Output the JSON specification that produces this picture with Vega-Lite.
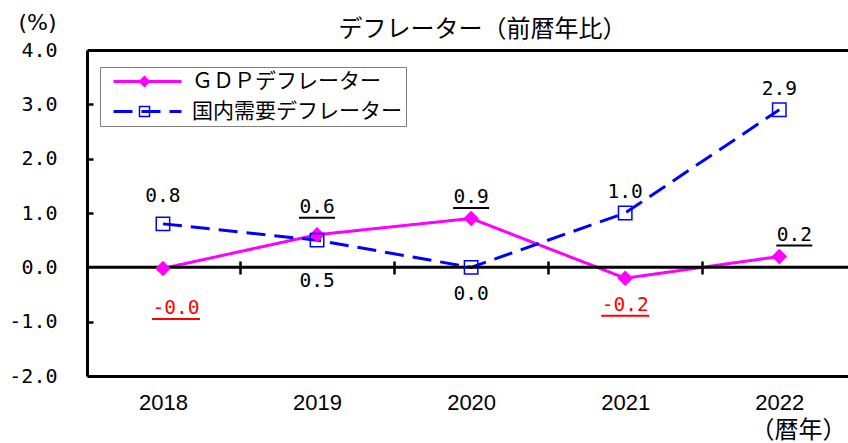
{
  "$schema": "https://vega.github.io/schema/vega-lite/v6.json",
  "width": 761,
  "height": 326,
  "autosize": "none",
  "padding": {"left": 87, "top": 50, "right": 0, "bottom": 67},
  "background": "white",
  "config": {"view": {"stroke": null}, "axis": {"grid": false}},
  "datasets": {
    "d": [
      {"year": 2018, "series": "ＧＤＰデフレーター", "value": -0.02, "label": "-0.0"},
      {"year": 2019, "series": "ＧＤＰデフレーター", "value": 0.6, "label": "0.6"},
      {"year": 2020, "series": "ＧＤＰデフレーター", "value": 0.9, "label": "0.9"},
      {"year": 2021, "series": "ＧＤＰデフレーター", "value": -0.2, "label": "-0.2"},
      {"year": 2022, "series": "ＧＤＰデフレーター", "value": 0.2, "label": "0.2"},
      {"year": 2018, "series": "国内需要デフレーター", "value": 0.8, "label": "0.8"},
      {"year": 2019, "series": "国内需要デフレーター", "value": 0.5, "label": "0.5"},
      {"year": 2020, "series": "国内需要デフレーター", "value": 0.0, "label": "0.0"},
      {"year": 2021, "series": "国内需要デフレーター", "value": 1.0, "label": "1.0"},
      {"year": 2022, "series": "国内需要デフレーター", "value": 2.9, "label": "2.9"}
    ]
  },
  "data": {"name": "d"},
  "resolve": {"axis": {"x": "independent", "y": "independent"}},
  "layer": [
    {
      "mark": {"type": "line", "strokeWidth": 3},
      "encoding": {
        "x": {"field": "year", "type": "quantitative", "scale": {"domain": [2017.507, 2022.446], "nice": false, "zero": false},
          "axis": {"orient": "bottom", "values": [2018, 2019, 2020, 2021, 2022], "format": "d", "labelFont": "Liberation Sans", "labelFontSize": 22, "labelColor": "black", "labelPadding": 16, "ticks": false, "domain": true, "domainColor": "black", "domainWidth": 3, "grid": false, "labelFlush": false, "labelOverlap": false,
            "title": "（暦年）", "titleFont": "Noto Sans CJK JP", "titleFontSize": 24, "titleFontWeight": "normal", "titleColor": "black", "titleX": 711, "titleY": 54, "titleAlign": "center", "titleBaseline": "middle"}},
        "y": {"field": "value", "type": "quantitative", "scale": {"domain": [-2, 4], "nice": false, "zero": false},
          "axis": {"orient": "left", "values": [-2, -1, 0, 1, 2, 3, 4], "labelExpr": "datum.value < 0 ? '-' + format(-datum.value, '.1f') : format(datum.value, '.1f')", "labelFont": "DejaVu Sans Mono", "labelFontSize": 20, "labelColor": "black", "ticks": false, "labelPadding": 30, "domain": true, "domainColor": "black", "domainWidth": 3, "grid": false, "labelFlush": false, "labelOverlap": false,
            "title": "(%)", "titleAngle": 0, "titleX": -50, "titleY": -28, "titleAlign": "center", "titleBaseline": "middle", "titleFont": "DejaVu Sans", "titleFontSize": 22, "titleFontWeight": "normal", "titleColor": "black"}},
        "color": {"field": "series", "type": "nominal", "scale": {"domain": ["ＧＤＰデフレーター", "国内需要デフレーター"], "range": ["#FF00FF", "#0000FF"]},
          "legend": {"orient": "none", "legendX": 13, "legendY": 17, "title": null, "symbolType": "M-5,0H5", "symbolSize": 185, "symbolStrokeWidth": 3, "labelFont": "Noto Sans CJK JP", "labelFontSize": 21, "labelColor": "black", "padding": 4, "symbolOffset": 33, "labelOffset": 34, "rowPadding": 8, "strokeColor": "#808080", "labelLimit": 400}},
        "strokeDash": {"field": "series", "type": "nominal", "scale": {"domain": ["ＧＤＰデフレーター", "国内需要デフレーター"], "range": [[1, 0], [19, 9]]},
          "legend": {"orient": "none", "legendX": 13, "legendY": 17, "title": null, "symbolType": "M-5,0H5", "symbolSize": 185, "symbolStrokeWidth": 3, "labelFont": "Noto Sans CJK JP", "labelFontSize": 21, "labelColor": "black", "padding": 4, "symbolOffset": 33, "labelOffset": 34, "rowPadding": 8, "strokeColor": "#808080", "labelLimit": 400}}
      }
    },
    {
      "data": {"values": [{}]},
      "mark": {"type": "rule", "strokeWidth": 3, "color": "black"},
      "encoding": {
        "y": {"datum": 0, "type": "quantitative", "scale": {"domain": [-2, 4], "nice": false, "zero": false}, "axis": null}
      }
    },
    {
      "mark": {"type": "point", "filled": true, "size": 180, "strokeWidth": 1.5, "opacity": 1},
      "encoding": {
        "x": {"field": "year", "type": "quantitative", "scale": {"domain": [2017.507, 2022.446], "nice": false, "zero": false},
          "axis": {"orient": "top", "domain": true, "domainColor": "black", "domainWidth": 3, "ticks": false, "labels": false, "grid": false,
            "title": "デフレーター（前暦年比）", "titleFont": "Noto Sans CJK JP", "titleFontSize": 24, "titleFontWeight": "normal", "titleColor": "black", "titleX": 395, "titleY": -21, "titleAlign": "center", "titleBaseline": "middle"}},
        "y": {"field": "value", "type": "quantitative", "scale": {"domain": [-2, 4], "nice": false, "zero": false},
          "axis": {"orient": "right", "offset": -761, "values": [-1, 1, 2, 3], "ticks": true, "tickSize": 6, "tickWidth": 2.5, "tickColor": "black", "labels": false, "domain": false, "title": null, "grid": false}},
        "shape": {"field": "series", "type": "nominal", "scale": {"domain": ["国内需要デフレーター", "ＧＤＰデフレーター"], "range": ["square", "diamond"]},
          "legend": {"orient": "none", "legendX": 13, "legendY": 17, "values": ["ＧＤＰデフレーター", "国内需要デフレーター"], "title": null, "labelFont": "Noto Sans CJK JP", "labelFontSize": 21, "labelColor": "transparent", "padding": 4, "symbolOffset": 30, "rowPadding": 8, "symbolStrokeWidth": 1.5, "labelLimit": 400}},
        "fill": {"field": "series", "type": "nominal", "scale": {"domain": ["国内需要デフレーター", "ＧＤＰデフレーター"], "range": ["transparent", "#FF00FF"]},
          "legend": {"orient": "none", "legendX": 13, "legendY": 17, "values": ["ＧＤＰデフレーター", "国内需要デフレーター"], "title": null, "labelFont": "Noto Sans CJK JP", "labelFontSize": 21, "labelColor": "transparent", "padding": 4, "symbolOffset": 30, "rowPadding": 8, "symbolStrokeWidth": 1.5, "labelLimit": 400}},
        "stroke": {"field": "series", "type": "nominal", "scale": {"domain": ["国内需要デフレーター", "ＧＤＰデフレーター"], "range": ["#0000FF", "#FF00FF"]},
          "legend": {"orient": "none", "legendX": 13, "legendY": 17, "values": ["ＧＤＰデフレーター", "国内需要デフレーター"], "title": null, "labelFont": "Noto Sans CJK JP", "labelFontSize": 21, "labelColor": "transparent", "padding": 4, "symbolOffset": 30, "rowPadding": 8, "symbolStrokeWidth": 1.5, "labelLimit": 400}}
      }
    },
    {
      "transform": [{"filter": "(datum.series == 'ＧＤＰデフレーター' && datum.year == 2020) || (datum.series == '国内需要デフレーター' && (datum.year == 2021 || datum.year == 2022))"}],
      "mark": {"type": "text", "font": "DejaVu Sans Mono", "fontSize": 19.5, "baseline": "middle", "align": "center", "dy": -21},
      "encoding": {
        "x": {"field": "year", "type": "quantitative", "scale": {"domain": [2017.507, 2022.446], "nice": false, "zero": false},
          "axis": {"orient": "bottom", "offset": -109, "values": [2018.5, 2019.5, 2020.5, 2021.5], "labels": false, "domain": false, "ticks": true, "tickSize": 7, "tickWidth": 2.5, "tickColor": "black", "title": null, "grid": false}},
        "y": {"field": "value", "type": "quantitative", "scale": {"domain": [-2, 4], "nice": false, "zero": false}, "axis": null},
        "text": {"field": "label"},
        "color": {"condition": {"test": "datum.value < 0", "value": "#FF0000"}, "value": "black"}
      }
    },
    {
      "transform": [{"filter": "datum.series == 'ＧＤＰデフレーター' && datum.year == 2022"}],
      "mark": {"type": "text", "font": "DejaVu Sans Mono", "fontSize": 19.5, "baseline": "middle", "align": "center", "dy": -21.5, "dx": 15},
      "encoding": {
        "x": {"field": "year", "type": "quantitative", "scale": {"domain": [2017.507, 2022.446], "nice": false, "zero": false},
          "axis": {"orient": "top", "offset": -217, "values": [2018.5, 2019.5, 2020.5, 2021.5], "labels": false, "domain": false, "ticks": true, "tickSize": 6, "tickWidth": 2.5, "tickColor": "black", "title": null, "grid": false}},
        "y": {"field": "value", "type": "quantitative", "scale": {"domain": [-2, 4], "nice": false, "zero": false}, "axis": null},
        "text": {"field": "label"},
        "color": {"condition": {"test": "datum.value < 0", "value": "#FF0000"}, "value": "black"}
      }
    },
    {
      "transform": [{"filter": "(datum.series == 'ＧＤＰデフレーター' && datum.year == 2019) || (datum.series == '国内需要デフレーター' && datum.year == 2018)"}],
      "mark": {"type": "text", "font": "DejaVu Sans Mono", "fontSize": 19.5, "baseline": "middle", "align": "center", "dy": -27.5},
      "encoding": {
        "x": {"field": "year", "type": "quantitative", "scale": {"domain": [2017.507, 2022.446], "nice": false, "zero": false}, "axis": null},
        "y": {"field": "value", "type": "quantitative", "scale": {"domain": [-2, 4], "nice": false, "zero": false}, "axis": null},
        "text": {"field": "label"},
        "color": {"condition": {"test": "datum.value < 0", "value": "#FF0000"}, "value": "black"}
      }
    },
    {
      "transform": [{"filter": "(datum.series == '国内需要デフレーター' && datum.year == 2020) || (datum.series == 'ＧＤＰデフレーター' && datum.year == 2021)"}],
      "mark": {"type": "text", "font": "DejaVu Sans Mono", "fontSize": 19.5, "baseline": "middle", "align": "center", "dy": 27},
      "encoding": {
        "x": {"field": "year", "type": "quantitative", "scale": {"domain": [2017.507, 2022.446], "nice": false, "zero": false}, "axis": null},
        "y": {"field": "value", "type": "quantitative", "scale": {"domain": [-2, 4], "nice": false, "zero": false}, "axis": null},
        "text": {"field": "label"},
        "color": {"condition": {"test": "datum.value < 0", "value": "#FF0000"}, "value": "black"}
      }
    },
    {
      "transform": [{"filter": "datum.series == '国内需要デフレーター' && datum.year == 2019"}],
      "mark": {"type": "text", "font": "DejaVu Sans Mono", "fontSize": 19.5, "baseline": "middle", "align": "center", "dy": 41},
      "encoding": {
        "x": {"field": "year", "type": "quantitative", "scale": {"domain": [2017.507, 2022.446], "nice": false, "zero": false}, "axis": null},
        "y": {"field": "value", "type": "quantitative", "scale": {"domain": [-2, 4], "nice": false, "zero": false}, "axis": null},
        "text": {"field": "label"},
        "color": {"condition": {"test": "datum.value < 0", "value": "#FF0000"}, "value": "black"}
      }
    },
    {
      "transform": [{"filter": "datum.series == 'ＧＤＰデフレーター' && datum.year == 2018"}],
      "mark": {"type": "text", "font": "DejaVu Sans Mono", "fontSize": 19.5, "baseline": "middle", "align": "center", "dy": 40, "dx": 13},
      "encoding": {
        "x": {"field": "year", "type": "quantitative", "scale": {"domain": [2017.507, 2022.446], "nice": false, "zero": false}, "axis": null},
        "y": {"field": "value", "type": "quantitative", "scale": {"domain": [-2, 4], "nice": false, "zero": false}, "axis": null},
        "text": {"field": "label"},
        "color": {"condition": {"test": "datum.value < 0", "value": "#FF0000"}, "value": "black"}
      }
    },
    {
      "transform": [{"filter": "datum.series == 'ＧＤＰデフレーター' && datum.year == 2020"}],
      "mark": {"type": "tick", "orient": "horizontal", "size": 36, "thickness": 2, "yOffset": -10.5, "opacity": 1},
      "encoding": {
        "x": {"field": "year", "type": "quantitative", "scale": {"domain": [2017.507, 2022.446], "nice": false, "zero": false}, "axis": null},
        "y": {"field": "value", "type": "quantitative", "scale": {"domain": [-2, 4], "nice": false, "zero": false}, "axis": null},
        "color": {"value": "black"}
      }
    },
    {
      "transform": [{"filter": "datum.series == 'ＧＤＰデフレーター' && datum.year == 2022"}],
      "mark": {"type": "tick", "orient": "horizontal", "size": 36, "thickness": 2, "yOffset": -11, "xOffset": 15, "opacity": 1},
      "encoding": {
        "x": {"field": "year", "type": "quantitative", "scale": {"domain": [2017.507, 2022.446], "nice": false, "zero": false}, "axis": null},
        "y": {"field": "value", "type": "quantitative", "scale": {"domain": [-2, 4], "nice": false, "zero": false}, "axis": null},
        "color": {"value": "black"}
      }
    },
    {
      "transform": [{"filter": "datum.series == 'ＧＤＰデフレーター' && datum.year == 2019"}],
      "mark": {"type": "tick", "orient": "horizontal", "size": 36, "thickness": 2, "yOffset": -17, "opacity": 1},
      "encoding": {
        "x": {"field": "year", "type": "quantitative", "scale": {"domain": [2017.507, 2022.446], "nice": false, "zero": false}, "axis": null},
        "y": {"field": "value", "type": "quantitative", "scale": {"domain": [-2, 4], "nice": false, "zero": false}, "axis": null},
        "color": {"value": "black"}
      }
    },
    {
      "transform": [{"filter": "datum.series == 'ＧＤＰデフレーター' && datum.year == 2021"}],
      "mark": {"type": "tick", "orient": "horizontal", "size": 48, "thickness": 2, "yOffset": 37.5, "opacity": 1},
      "encoding": {
        "x": {"field": "year", "type": "quantitative", "scale": {"domain": [2017.507, 2022.446], "nice": false, "zero": false}, "axis": null},
        "y": {"field": "value", "type": "quantitative", "scale": {"domain": [-2, 4], "nice": false, "zero": false}, "axis": null},
        "color": {"value": "#FF0000"}
      }
    },
    {
      "transform": [{"filter": "datum.series == 'ＧＤＰデフレーター' && datum.year == 2018"}],
      "mark": {"type": "tick", "orient": "horizontal", "size": 48, "thickness": 2, "yOffset": 50.5, "xOffset": 13, "opacity": 1},
      "encoding": {
        "x": {"field": "year", "type": "quantitative", "scale": {"domain": [2017.507, 2022.446], "nice": false, "zero": false}, "axis": null},
        "y": {"field": "value", "type": "quantitative", "scale": {"domain": [-2, 4], "nice": false, "zero": false}, "axis": null},
        "color": {"value": "#FF0000"}
      }
    }
  ]
}
